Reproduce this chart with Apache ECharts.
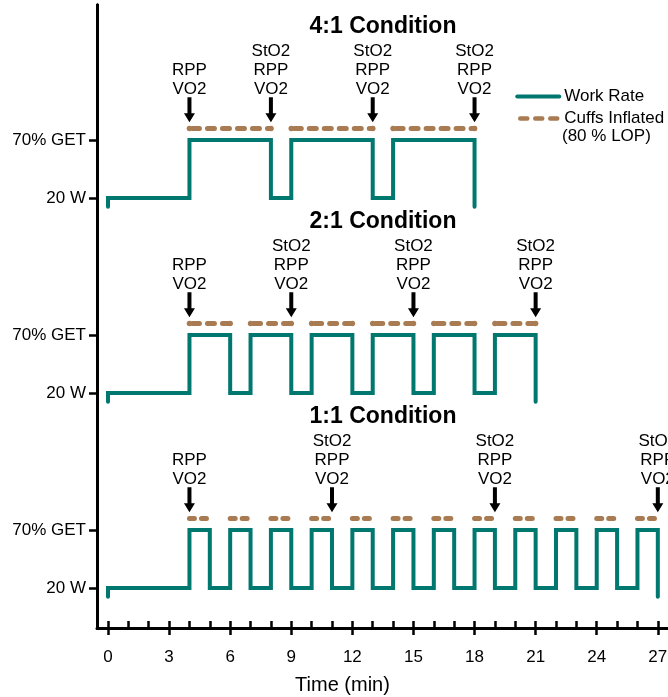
<!DOCTYPE html>
<html>
<head>
<meta charset="utf-8">
<script src="https://cdn.jsdelivr.net/npm/echarts@6/dist/echarts.min.js"></script>
<style>
  html, body { margin: 0; padding: 0; background: #fff; }
  #chart { width: 668px; height: 697px; }
</style>
</head>
<body>
<div id="chart"></div>
<script>
// time axis (min)
const minuteTicks = [0, 1, 2, 3, 4, 5, 6, 7, 8, 9, 10, 11, 12, 13, 14, 15, 16, 17, 18, 19, 20, 21, 22, 23, 24, 25, 26, 27];
const labelMinutes = [0, 3, 6, 9, 12, 15, 18, 21, 24, 27];
const levelLabels = ['20 W', '70% GET'];

// high-intensity bouts [start, end] in min, one list per condition
const bouts41 = [[4, 8], [9, 13], [14, 18]];
const bouts21 = [[4, 6], [7, 9], [10, 12], [13, 15], [16, 18], [19, 21]];
const bouts11 = [[4, 5], [6, 7], [8, 9], [10, 11], [12, 13], [14, 15], [16, 17], [18, 19], [20, 21], [22, 23], [24, 25], [26, 27]];

// measurement arrows
const arrows41 = [4, 8, 13, 18];
const arrows21 = [4, 9, 15, 21];
const arrows11 = [4, 11, 19, 27];
const arrowText = ['RPP\nVO2', 'StO2\nRPP\nVO2', 'StO2\nRPP\nVO2', 'StO2\nRPP\nVO2'];

const titles = ['4:1 Condition', '2:1 Condition', '1:1 Condition'];

const TEAL = '#00776f';
const BROWN = '#a87b52';
const FONT = 'Liberation Sans, Arial, sans-serif';
const DIP = 0.15;        // little hook below 20 W at both ends
const CUFF_LEVEL = 1.2;
const ARROW_LEVEL = 1.52;

// per-panel y range so the three panels stack inside one grid
const yRanges = [[-7.414, 3.328], [-4.052, 6.690], [-0.690, 10.052]];

function workLine(bouts) {
  const pts = [[0, -DIP], [0, 0]];
  bouts.forEach(([s, e]) => pts.push([s, 1], [e, 0]));
  pts[pts.length - 1] = [pts[pts.length - 1][0], -DIP];
  return pts;
}

function cuffLine(bouts) {
  const pts = [];
  bouts.forEach(([s, e]) => pts.push([s, CUFF_LEVEL], [e, CUFF_LEVEL], [e, '-']));
  return pts;
}

const panels = [
  { bouts: bouts41, arrows: arrows41, dash: [7, 8], dashOffset: 12, dots: true },
  { bouts: bouts21, arrows: arrows21, dash: [7, 8], dashOffset: 12, dots: true },
  { bouts: bouts11, arrows: arrows11, dash: [5, 7], dashOffset: 0, dots: false }
];

const chart = echarts.init(document.getElementById('chart'), null, { renderer: 'canvas' });

const yAxes = yRanges.map(([mn, mx]) => ({
  type: 'value',
  min: mn,
  max: mx,
  position: 'left',
  axisLine: { show: true, onZero: false, lineStyle: { color: '#000', width: 3 } },
  axisTick: { show: true, customValues: [0, 1], length: 8, lineStyle: { color: '#000', width: 2.5 } },
  axisLabel: {
    customValues: [0, 1],
    formatter: v => levelLabels[v],
    margin: 11,
    color: '#000',
    fontSize: 17,
    fontFamily: FONT
  },
  splitLine: { show: false }
}));

const series = [];
panels.forEach((p, k) => {
  series.push({
    name: 'Work Rate',
    type: 'line',
    xAxisIndex: 0,
    yAxisIndex: k,
    step: 'end',
    symbol: 'none',
    data: workLine(p.bouts),
    lineStyle: { color: TEAL, width: 4, cap: 'round', join: 'miter' },
    itemStyle: { color: TEAL },
    z: 3
  });
  series.push({
    name: 'Cuffs Inflated',
    type: 'line',
    xAxisIndex: 0,
    yAxisIndex: k,
    symbol: p.dots ? 'circle' : 'none',
    symbolSize: 5.5,
    showSymbol: p.dots,
    connectNulls: false,
    data: cuffLine(p.bouts),
    lineStyle: { color: BROWN, width: 5, type: p.dash, dashOffset: p.dashOffset, cap: 'round' },
    itemStyle: { color: BROWN, borderWidth: 0 },
    z: 3
  });
  series.push({
    type: 'scatter',
    xAxisIndex: 0,
    yAxisIndex: k,
    symbol: 'path://M3.5,0 L7.5,0 L7.5,16 L11,16 L5.5,25 L0,16 L3.5,16 Z',
    symbolSize: [11, 25],
    itemStyle: { color: '#000', opacity: 1 },
    data: p.arrows.map((t, i) => [t, ARROW_LEVEL, arrowText[i]]),
    label: {
      show: true,
      position: 'top',
      distance: -1.5,
      formatter: q => q.value[2],
      color: '#000',
      opacity: 1,
      fontSize: 17,
      lineHeight: 19,
      fontFamily: FONT,
      align: 'center'
    },
    silent: true,
    z: 4
  });
});

chart.setOption({
  backgroundColor: '#fff',
  animation: false,
  grid: { left: 97, right: 0, top: 5, bottom: 69, outerBoundsMode: 'none', containLabel: false },
  legend: {
    orient: 'vertical',
    left: 515,
    top: 88,
    padding: 0,
    itemWidth: 42,
    itemHeight: 14,
    itemGap: 5,
    itemStyle: { opacity: 0 },
    data: [
      { name: 'Work Rate', lineStyle: { width: 4 } },
      { name: 'Cuffs Inflated', lineStyle: { width: 4.5 } }
    ],
    textStyle: { color: '#000', fontSize: 17, fontFamily: FONT },
    selectedMode: false
  },
  xAxis: [
    {
      type: 'value',
      min: -0.54,
      max: 27.5,
      position: 'bottom',
      name: 'Time (min)',
      nameLocation: 'middle',
      nameGap: 47,
      nameTextStyle: { color: '#000', fontSize: 20, fontFamily: FONT, padding: [0, 80, 0, 0] },
      axisLine: { show: true, onZero: false, lineStyle: { color: '#000', width: 3 } },
      axisTick: { show: true, inside: true, customValues: minuteTicks, length: 7, lineStyle: { color: '#000', width: 2.5 } },
      axisLabel: { customValues: labelMinutes, margin: 21, color: '#000', fontSize: 17, fontFamily: FONT },
      splitLine: { show: false }
    },
    {
      type: 'value',
      min: -0.54,
      max: 27.5,
      position: 'bottom',
      offset: 0,
      axisLine: { show: false, onZero: false },
      axisTick: { show: true, inside: false, customValues: labelMinutes, length: 7, lineStyle: { color: '#000', width: 2.5 } },
      axisLabel: { show: false },
      splitLine: { show: false }
    }
  ],
  yAxis: yAxes,
  graphic: [
    ...titles.map((t, k) => ({
      type: 'text',
      x: 383,
      y: 27 + 195 * k,
      style: { text: t, fontSize: 23, fontWeight: 'bold', fontFamily: FONT, fill: '#000', align: 'center', verticalAlign: 'middle' }
    })),
    {
      type: 'text',
      x: 562,
      y: 136,
      style: { text: '(80 % LOP)', fontSize: 17, fontFamily: FONT, fill: '#000', align: 'left', verticalAlign: 'middle' }
    }
  ],
  series: series
});
</script>
</body>
</html>
